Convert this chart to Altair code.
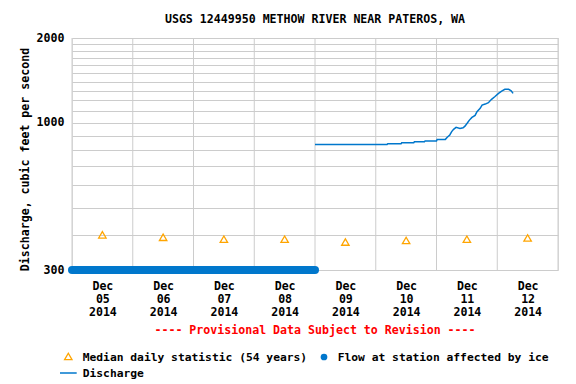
import altair as alt
import pandas as pd

# ---- data ----
day_bounds = ["2014-12-05T00:00:00Z", "2014-12-06T00:00:00Z", "2014-12-07T00:00:00Z",
              "2014-12-08T00:00:00Z", "2014-12-09T00:00:00Z", "2014-12-10T00:00:00Z",
              "2014-12-11T00:00:00Z", "2014-12-12T00:00:00Z", "2014-12-13T00:00:00Z"]

median_dates = ["2014-12-05T12:00:00Z", "2014-12-06T12:00:00Z", "2014-12-07T12:00:00Z",
                "2014-12-08T12:00:00Z", "2014-12-09T12:00:00Z", "2014-12-10T12:00:00Z",
                "2014-12-11T12:00:00Z", "2014-12-12T12:00:00Z"]
median_values = [400, 392, 386, 386, 377, 382, 386, 390]

q_times = ["2014-12-09T00:00:00Z", "2014-12-10T04:30:00Z", "2014-12-10T04:45:00Z",
           "2014-12-10T10:00:00Z", "2014-12-10T10:15:00Z", "2014-12-10T15:00:00Z",
           "2014-12-10T15:15:00Z", "2014-12-10T19:15:00Z", "2014-12-10T19:30:00Z",
           "2014-12-11T00:00:00Z", "2014-12-11T00:15:00Z", "2014-12-11T03:30:00Z",
           "2014-12-11T04:15:00Z", "2014-12-11T05:15:00Z", "2014-12-11T06:00:00Z",
           "2014-12-11T06:45:00Z", "2014-12-11T07:45:00Z", "2014-12-11T09:15:00Z",
           "2014-12-11T10:30:00Z", "2014-12-11T11:15:00Z", "2014-12-11T12:15:00Z",
           "2014-12-11T13:00:00Z", "2014-12-11T14:00:00Z", "2014-12-11T15:15:00Z",
           "2014-12-11T16:00:00Z", "2014-12-11T17:15:00Z", "2014-12-11T18:00:00Z",
           "2014-12-11T19:15:00Z", "2014-12-11T20:30:00Z", "2014-12-11T21:45:00Z",
           "2014-12-11T23:00:00Z", "2014-12-12T00:30:00Z", "2014-12-12T01:45:00Z",
           "2014-12-12T03:00:00Z", "2014-12-12T04:30:00Z", "2014-12-12T05:30:00Z",
           "2014-12-12T06:15:00Z"]
q_values = [838, 838, 842, 842, 849, 849, 856, 856, 862, 862, 873, 873,
            888, 905, 930, 948, 963, 955, 960, 973, 1000, 1022, 1045, 1062,
            1095, 1125, 1156, 1165, 1178, 1211, 1237, 1272, 1296, 1314, 1314,
            1299, 1272]

ice_start = "2014-12-05T00:00:00Z"
ice_end = "2014-12-09T00:00:00Z"
ice_value = 300

y_grid_values = [300, 400, 500, 600, 700, 800, 900, 1000, 1100, 1200, 1300,
                 1400, 1500, 1600, 1700, 1800, 1900, 2000]
y_label_values = [300, 1000, 2000]

title_text = "USGS 12449950 METHOW RIVER NEAR PATEROS, WA"
provisional_text = "---- Provisional Data Subject to Revision ----"
y_title = "Discharge, cubic feet per second"
legend_median = "Median daily statistic (54 years)"
legend_ice = "Flow at station affected by ice"
legend_q = "Discharge"

# ---- styling ----
FONT = "DejaVu Sans Mono"
W, H = 486, 232
BLUE = "#0077cc"
ORANGE = "#ffa500"
GRID = "#cccccc"

x_scale = alt.Scale(type="utc",
                    domain=[alt.DateTime(year=2014, month=12, date=5, utc=True),
                            alt.DateTime(year=2014, month=12, date=13, utc=True)])
y_scale = alt.Scale(type="log", domain=[300, 2000], nice=False)

x_axis = alt.Axis(
    values=[alt.DateTime(year=2014, month=12, date=d, hours=12, utc=True) for d in range(5, 13)],
    labelExpr="[utcFormat(datum.value, '%b'), utcFormat(datum.value, '%d'), utcFormat(datum.value, '%Y')]",
    grid=False, ticks=False, domain=False, title=None,
    labelFont=FONT, labelFontWeight="bold", labelFontSize=11.6, labelColor="black",
    labelLineHeight=13, labelBaseline="top", labelPadding=10, labelOverlap=False,
)
y_axis = alt.Axis(
    values=y_grid_values,
    labelExpr="indexof(%s, datum.value) >= 0 ? format(datum.value, 'd') : ''" % str(y_label_values),
    grid=True, gridColor=GRID, gridWidth=1, ticks=False, domain=False,
    labelFont=FONT, labelFontWeight="bold", labelFontSize=11.6, labelColor="black",
    labelPadding=8, labelOverlap=False, labelBaseline="middle",
    title=y_title, titleFont=FONT, titleFontWeight="bold", titleFontSize=11.6,
    titleColor="black", titleX=-47, titleY=121, titleAngle=270,
    titleAlign="center", titleBaseline="middle",
)

X = alt.X("t:T", scale=x_scale, axis=x_axis)
Y = alt.Y("v:Q", scale=y_scale, axis=y_axis)

grid_df = pd.DataFrame({"t": day_bounds})
med_df = pd.DataFrame({"t": median_dates, "v": median_values})
q_df = pd.DataFrame({"t": q_times, "v": q_values})
ice_df = pd.DataFrame({"t": [ice_start], "t2": [ice_end], "v": [ice_value]})
one = alt.Data(values=[{"a": 1}])

vgrid = alt.Chart(grid_df).mark_rule(color=GRID, strokeWidth=1).encode(x=X)

medians = alt.Chart(med_df).mark_point(
    shape="triangle-up", filled=False, color=ORANGE, size=55, strokeWidth=1.3, opacity=1
).encode(x=X, y=Y)

discharge = alt.Chart(q_df).mark_line(color=BLUE, strokeWidth=1.5).encode(x=X, y=Y)

ice = alt.Chart(ice_df).mark_rule(color=BLUE, strokeWidth=8, strokeCap="round").encode(
    x=X, x2="t2:T", y=Y)

def txt(s, x, y, color="black", size=11.6, align="left"):
    return alt.Chart(one).mark_text(
        text=s, font=FONT, fontWeight="bold", fontSize=size, color=color,
        align=align, baseline="middle"
    ).encode(x=alt.value(x), y=alt.value(y))

title = txt(title_text, W / 2, -18.5, align="center")
prov = txt(provisional_text, W / 2, 292.5, color="#ff0000", align="center")

leg_tri = alt.Chart(one).mark_point(shape="triangle-up", filled=False, color=ORANGE,
                                    size=55, strokeWidth=1.3, opacity=1).encode(
    x=alt.value(-3.7), y=alt.value(318.5))
leg_med = txt(legend_median, 10.7, 319.5, size=11.3)
leg_dot = alt.Chart(one).mark_point(shape="circle", filled=True, color=BLUE,
                                    size=45, opacity=1).encode(
    x=alt.value(252), y=alt.value(319))
leg_ice = txt(legend_ice, 265.7, 319.5, size=11.3)
leg_line = alt.Chart(one).mark_rule(color=BLUE, strokeWidth=1.5).encode(
    x=alt.value(-12), x2=alt.value(4.7), y=alt.value(335))
leg_q = txt(legend_q, 10.7, 336, size=11.3)

chart = alt.layer(
    vgrid, medians, discharge, ice, title, prov,
    leg_tri, leg_med, leg_dot, leg_ice, leg_line, leg_q
).properties(
    width=W, height=H,
    autosize=alt.AutoSizeParams(type="none"),
    padding={"left": 64, "top": 30, "right": 10, "bottom": 114},
).configure_view(stroke="black", strokeWidth=1).configure(background="white")

chart.save("out.html", embed_options={"renderer": "svg", "actions": False})
